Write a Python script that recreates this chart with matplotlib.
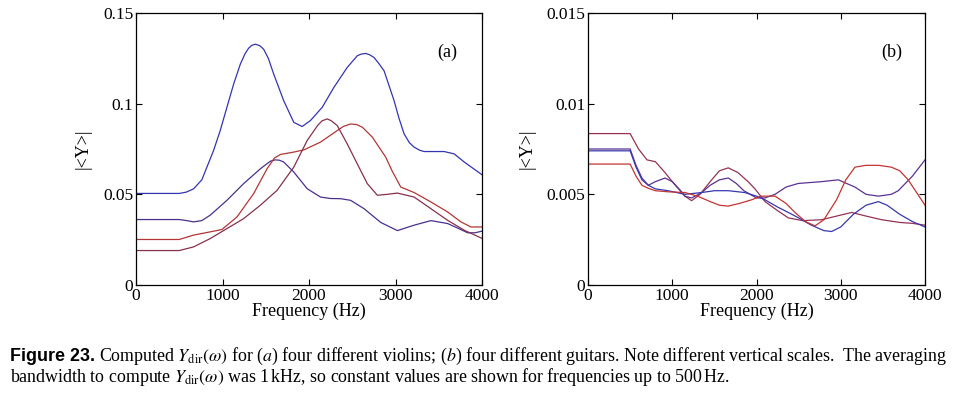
import numpy as np
import matplotlib
matplotlib.use('Agg')
import matplotlib.pyplot as plt

plt.rcParams['font.family'] = 'serif'
plt.rcParams['font.serif'] = ['Liberation Serif', 'DejaVu Serif']
plt.rcParams['mathtext.fontset'] = 'stix'

# (a) four violins
fa1 = [0, 500, 580, 665, 761, 897, 974, 1051, 1130, 1206, 1260, 1302, 1340, 1380, 1430, 1476, 1530, 1592,
       1708, 1824, 1921, 2017, 2153, 2288, 2442, 2558, 2600, 2655, 2700, 2751, 2810, 2868, 2984, 3040,
       3100, 3160, 3216, 3280, 3331, 3563, 3679, 3795, 4000]
ya1 = [0.0505, 0.0505, 0.0512, 0.0530, 0.0580, 0.0742, 0.0852, 0.0980, 0.1110, 0.1218, 0.1275, 0.1306,
       0.1322, 0.1328, 0.1320, 0.1300, 0.1250, 0.1163, 0.1016, 0.0897, 0.0874, 0.0907, 0.0980, 0.1090,
       0.1200, 0.1264, 0.1273, 0.1277, 0.1270, 0.1255, 0.1220, 0.1181, 0.1016, 0.0920, 0.0833, 0.0785,
       0.0760, 0.0743, 0.0736, 0.0736, 0.0723, 0.0678, 0.0608]

fa2 = [0, 500, 600, 665, 760, 858, 1051, 1244, 1438, 1554, 1610, 1660, 1708, 1824, 1979, 2133, 2250, 2365,
       2481, 2636, 2829, 3022, 3216, 3409, 3602, 3700, 3834, 3920, 4000]
ya2 = [0.0361, 0.0361, 0.0354, 0.0348, 0.0355, 0.0385, 0.0467, 0.0559, 0.0641, 0.0683, 0.0690, 0.0688,
       0.0678, 0.0623, 0.0531, 0.0485, 0.0477, 0.0476, 0.0467, 0.0421, 0.0345, 0.0300, 0.0330, 0.0355,
       0.0339, 0.0318, 0.0288, 0.0288, 0.0297]

fa3 = [0, 500, 665, 858, 993, 1167, 1360, 1515, 1600, 1670, 1824, 1940, 2133, 2327, 2400, 2481, 2550,
       2617, 2733, 2887, 2960, 3061, 3215, 3409, 3602, 3757, 3872, 4000]
ya3 = [0.0251, 0.0251, 0.0275, 0.0293, 0.0306, 0.0375, 0.0504, 0.0641, 0.0700, 0.0720, 0.0733, 0.0745,
       0.0788, 0.0852, 0.0875, 0.0888, 0.0885, 0.0870, 0.0815, 0.0705, 0.0630, 0.0540, 0.0510, 0.0458,
       0.0403, 0.0348, 0.0320, 0.0320]

fa4 = [0, 500, 665, 858, 1051, 1244, 1438, 1631, 1824, 1979, 2100, 2150, 2211, 2260, 2327, 2442, 2558,
       2674, 2790, 2906, 3022, 3215, 3409, 3602, 3795, 4000]
ya4 = [0.0190, 0.0190, 0.0210, 0.0256, 0.0311, 0.0366, 0.0440, 0.0522, 0.0650, 0.0797, 0.0880, 0.0905,
       0.0916, 0.0905, 0.0879, 0.0778, 0.0668, 0.0559, 0.0495, 0.0500, 0.0507, 0.0485, 0.0421, 0.0357,
       0.0302, 0.0257]

# (b) four guitars
fb1 = [0, 500, 600, 700, 800, 914, 1000, 1150, 1230, 1330, 1450, 1560, 1665, 1780, 1900, 1982, 2101,
       2250, 2378, 2550, 2773, 2950, 3130, 3300, 3486, 3700, 3850, 4000]
yb1 = [0.00835, 0.00835, 0.0075, 0.0069, 0.0068, 0.0062, 0.0057, 0.0049, 0.00465, 0.0050, 0.0057, 0.0063,
       0.00646, 0.0062, 0.0057, 0.0053, 0.0046, 0.0041, 0.0037, 0.00355, 0.0036, 0.0038, 0.0040, 0.0038,
       0.0036, 0.00345, 0.0034, 0.0033]

fb2 = [0, 500, 570, 640, 716, 800, 914, 1000, 1100, 1150, 1230, 1350, 1450, 1560, 1666, 1760, 1850,
       2000, 2100, 2220, 2350, 2496, 2773, 2971, 3169, 3300, 3446, 3600, 3683, 3850, 4000]
yb2 = [0.0075, 0.0075, 0.0066, 0.0059, 0.0055, 0.0057, 0.0059, 0.0057, 0.0052, 0.0049, 0.0048, 0.0051,
       0.0055, 0.0058, 0.0059, 0.0056, 0.0052, 0.0048, 0.0048, 0.0050, 0.0054, 0.0056, 0.0057, 0.0058,
       0.0054, 0.0050, 0.0049, 0.0050, 0.0052, 0.0060, 0.0069]

fb3 = [0, 500, 570, 640, 716, 800, 950, 1150, 1350, 1500, 1666, 1860, 2000, 2100, 2250, 2378, 2500,
       2650, 2800, 2892, 3000, 3150, 3300, 3446, 3550, 3700, 3850, 4000]
yb3 = [0.0074, 0.0074, 0.0065, 0.0058, 0.0055, 0.0053, 0.0052, 0.0050, 0.0051, 0.0052, 0.0052, 0.0051,
       0.0049, 0.0047, 0.0043, 0.0040, 0.0037, 0.0033, 0.0030, 0.00295, 0.0032, 0.0039, 0.0044, 0.0046,
       0.0044, 0.0039, 0.0035, 0.0032]

fb4 = [0, 500, 570, 640, 716, 800, 950, 1150, 1300, 1450, 1560, 1662, 1800, 1943, 2050, 2220, 2350,
       2457, 2580, 2694, 2800, 2950, 3060, 3169, 3300, 3450, 3600, 3700, 3800, 3900, 4000]
yb4 = [0.00667, 0.00667, 0.0060, 0.0055, 0.00533, 0.0052, 0.00514, 0.0051, 0.0049, 0.0046, 0.0044, 0.00435,
       0.0045, 0.0047, 0.0049, 0.0049, 0.0045, 0.0040, 0.0035, 0.00326, 0.0036, 0.0047, 0.0058, 0.0065,
       0.0066, 0.0066, 0.0065, 0.0063, 0.0058, 0.0051, 0.0044]

xticks = [0, 1000, 2000, 3000, 4000]
yticks_a = [0, 0.05, 0.1, 0.15]
ytlab_a = ['0', '0.05', '0.1', '0.15']
yticks_b = [0, 0.005, 0.01, 0.015]
ytlab_b = ['0', '0.005', '0.01', '0.015']

fig = plt.figure(figsize=(9.56, 3.94), dpi=100)
W, H = 956, 394

ax1 = fig.add_axes([136/W, 1-285/H, 346/W, 272/H])
ax2 = fig.add_axes([588/W, 1-285/H, 337/W, 272/H])

ax1.plot(fa1, ya1, color='#3434b2', lw=0.9)
ax1.plot(fa2, ya2, color='#4a2f8e', lw=0.9)
ax1.plot(fa3, ya3, color='#b23636', lw=0.9)
ax1.plot(fa4, ya4, color='#86304e', lw=0.9)

ax2.plot(fb1, yb1, color='#963256', lw=0.9)
ax2.plot(fb2, yb2, color='#5a3290', lw=0.9)
ax2.plot(fb3, yb3, color='#3838b0', lw=0.9)
ax2.plot(fb4, yb4, color='#c23434', lw=0.9)

for ax, yt, yl, top, lab in [(ax1, yticks_a, ytlab_a, 0.15, '(a)'), (ax2, yticks_b, ytlab_b, 0.015, '(b)')]:
    ax.set_xlim(0, 4000)
    ax.set_ylim(0, top)
    ax.set_xticks(xticks)
    ax.set_xticklabels([str(x) for x in xticks])
    ax.set_yticks(yt)
    ax.set_yticklabels(yl)
    ax.tick_params(direction='in', top=True, right=True, length=4, width=0.8, labelsize=12.5, pad=2)
    ax.set_xlabel('Frequency (Hz)', fontsize=13, labelpad=-1)
    ax.set_ylabel('|<Y>|', fontsize=13, labelpad=8)
    for s in ax.spines.values():
        s.set_linewidth(0.9)
    ax.text(0.9, 0.857, lab, transform=ax.transAxes, fontsize=13, ha='center', va='center')

# caption
r = fig.canvas.get_renderer()
line1 = (r'Computed $Y_{\rm dir}(\omega)$ for ($a$) four different violins; ($b$) four different guitars. '
         r'Note different vertical scales.  The averaging')
line2 = r'bandwidth to compute $Y_{\rm dir}(\omega)$ was 1$\,$kHz, so constant values are shown for frequencies up to 500$\,$Hz.'

fs = 11
t0 = fig.text(10/W, 1-361/H, 'Figure 23.', family='Liberation Sans', weight='bold', fontsize=fs, va='baseline')
w0 = t0.get_window_extent(r).width
t1 = fig.text((10 + w0 + 4)/W, 1-361/H, line1, fontsize=fs, va='baseline')
w1 = t1.get_window_extent(r).width
scale = (945 - 10) / (w0 + 4 + w1)
fs = fs * scale
t0.set_fontsize(fs)
w0 = t0.get_window_extent(r).width
t1.set_fontsize(fs)
t1.set_x((10 + w0 + 4)/W)
fig.text(10/W, 1-382/H, line2, fontsize=fs, va='baseline')

fig.savefig('out.png', dpi=100)
